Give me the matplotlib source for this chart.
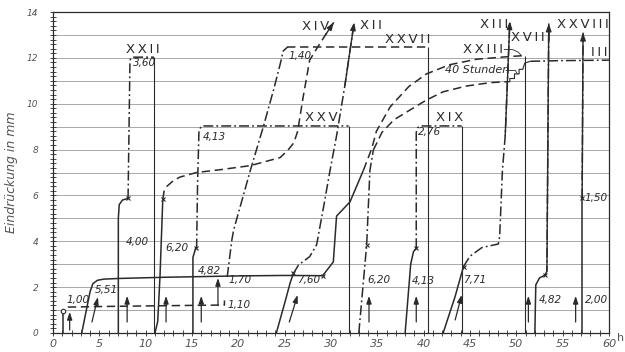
import matplotlib
matplotlib.use("Agg")
import matplotlib.pyplot as plt
from matplotlib.ticker import MultipleLocator

plt.rcParams["font.family"] = ["DejaVu Sans"]

INK = "#2a2a2a"
GRID = "#9a9a9a"
DASHED = (0, (5.5, 3.0))
DASHDOT = (0, (6.5, 2.0, 1.2, 2.0))

# --- measured runs: time (h) against indentation (mm) ---
# run 1,00: short rise, then held almost flat
t_a = [1.1, 1.1]
d_a = [0.0, 0.95]
t_a_hold = [1.6, 6.0, 12.0, 18.5, 18.5]
d_a_hold = [1.13, 1.16, 1.19, 1.22, 1.42]

# run 5,51: rise, long plateau, second rise into XXIII
t_b = [3.1, 3.6, 4.0, 4.3, 4.8, 5.5, 7.2, 12.0, 20.0, 25.0, 29.1, 30.25, 30.6, 32.05, 33.5]
d_b = [0.0, 1.0, 1.8, 2.15, 2.3, 2.35, 2.38, 2.43, 2.49, 2.51, 2.5, 3.1, 5.1, 5.72, 7.1]
t_b_up = [33.5, 34.4, 34.9, 36.4, 38.4, 40.3, 42.8, 45.7, 49.0, 50.9]
d_b_up = [7.1, 8.05, 8.8, 9.87, 10.75, 11.3, 11.7, 11.94, 12.05, 12.1]

# run 4,00 -> XXII
t_c = [7.05, 7.05, 7.15, 7.5, 8.1]
d_c = [0.0, 5.0, 5.6, 5.8, 5.87]
t_c_up = [8.1, 8.3, 8.35, 8.55, 10.9]
d_c_up = [5.87, 11.75, 11.95, 12.03, 12.03]

# run 6,20 -> XIV
t_d = [11.0, 11.3, 11.55, 11.85]
d_d = [0.0, 0.5, 2.5, 5.85]
t_d_up = [11.85, 12.0, 12.3, 13.0, 13.7, 15.5, 18.0, 21.3, 24.5, 25.3, 26.0, 26.4,
          26.6, 27.0, 27.7, 28.45, 29.4, 30.3]
d_d_up = [5.85, 6.2, 6.4, 6.65, 6.8, 7.0, 7.12, 7.3, 7.65, 7.95, 8.3, 8.8,
          9.3, 10.3, 11.9, 12.4, 13.0, 13.55]

# run 4,82 -> XXV
t_e = [15.1, 15.1, 15.4]
d_e = [0.0, 3.3, 3.7]
t_e_up = [15.4, 15.5, 15.6, 15.75, 16.0, 31.9]
d_e_up = [3.7, 3.75, 6.5, 8.8, 9.03, 9.03]

# run 1,70 -> XXVII
t_f = [18.8, 19.3, 19.5, 21.3, 22.7, 23.8, 24.5, 24.85, 25.3]
d_f = [2.45, 4.06, 4.5, 7.1, 9.0, 10.6, 11.7, 12.3, 12.47]
t_f_top = [25.3, 40.5]
d_f_top = [12.47, 12.47]

# run 7,60 -> XII
t_g = [24.1, 25.0, 25.6, 25.95]
d_g = [0.0, 1.3, 2.2, 2.6]
t_g_up = [25.95, 26.5, 27.7, 28.45, 29.2, 29.9, 30.6, 31.5, 32.5]
d_g_up = [2.6, 2.97, 3.33, 3.85, 5.5, 7.1, 8.6, 10.8, 13.55]

# run 6,20 -> III (40 Stunden)
t_h = [33.0, 33.85, 34.2, 34.57]
d_h = [0.0, 3.85, 7.1, 7.98]
t_h_mid = [34.57, 35.5, 36.8, 38.5, 40.3, 42.1, 44.6, 47.2, 49.0]
d_h_mid = [7.98, 8.75, 9.3, 9.72, 10.16, 10.52, 10.77, 10.92, 10.96]
t_h_step = [49.0, 49.3, 49.3, 49.8, 49.8, 50.3, 50.3, 50.7, 50.9, 51.5]
d_h_step = [10.96, 10.96, 11.1, 11.1, 11.3, 11.3, 11.5, 11.5, 11.77, 11.85]
t_h_end = [51.5, 55.0, 60.0]
d_h_end = [11.85, 11.88, 11.9]

# run 4,13 -> XIX
t_i = [38.0, 38.3, 38.6, 38.9, 39.2]
d_i = [0.0, 1.5, 3.0, 3.55, 3.7]
t_i_up = [39.2, 39.2, 39.35, 39.6, 44.1]
d_i_up = [3.7, 8.75, 8.95, 9.03, 9.03]

# run 7,71 -> XIII
t_j = [42.1, 43.4, 44.3]
d_j = [0.0, 1.6, 2.9]
t_j_up = [44.3, 45.0, 46.3, 48.05, 48.2, 48.5, 48.8, 49.3]
d_j_up = [2.9, 3.35, 3.73, 3.88, 4.2, 7.1, 8.6, 13.6]

# run 4,82 -> XVIII
t_k = [52.0, 52.1, 52.5, 53.1]
d_k = [0.0, 2.1, 2.4, 2.53]
t_k_up = [53.1, 53.3, 53.5]
d_k_up = [2.53, 2.7, 13.5]

# run 2,00 -> XXVIII
t_m = [57.05, 57.05]
d_m = [0.0, 5.87]
t_m_up = [57.1, 57.2]
d_m_up = [5.87, 13.1]

# end-of-run verticals down to the time axis
end_t = [10.9, 31.9, 40.5, 44.1, 50.9]
end_d = [12.03, 9.03, 12.47, 9.03, 12.1]

# points where the load was changed
joint_t = [8.1, 11.85, 15.4, 25.95, 29.1, 33.85, 39.2, 44.3, 53.1, 57.05]
joint_d = [5.87, 5.85, 3.7, 2.6, 2.5, 3.85, 3.7, 2.9, 2.53, 5.87]

# loading arrows at the foot of the runs
arrow_t0 = [1.8, 4.2, 8.0, 12.2, 16.0, 17.8, 25.5, 34.1, 39.2, 43.4, 51.3, 56.4]
arrow_t1 = [1.8, 4.85, 8.0, 12.2, 16.0, 17.8, 26.4, 34.1, 39.2, 44.1, 51.3, 56.4]
arrow_d0 = [0.13, 0.48, 0.48, 0.48, 0.48, 1.22, 0.48, 0.48, 0.48, 0.57, 0.48, 0.48]
arrow_d1 = [0.92, 1.57, 1.62, 1.62, 1.62, 2.40, 1.66, 1.62, 1.62, 1.66, 1.62, 1.62]

# load values written beside the curves
load_text = ["1,00", "5,51", "4,00", "6,20", "4,82", "1,70", "1,10", "7,60", "6,20",
             "4,13", "7,71", "4,82", "2,00", "1,50", "4,13", "1,40", "3,60", "2,76"]
load_t = [1.5, 4.55, 7.9, 12.1, 15.6, 18.95, 18.8, 26.3, 33.9,
          38.7, 44.3, 52.4, 57.4, 57.4, 16.2, 25.4, 8.65, 39.4]
load_d = [1.42, 1.87, 3.98, 3.7, 2.7, 2.3, 1.2, 2.3, 2.3,
          2.25, 2.3, 1.45, 1.45, 5.9, 8.55, 12.1, 11.77, 8.77]

# specimen numbers
spec_text = ["XXII", "XIV", "XII", "XXVII", "XXV", "XIX", "XIII", "XVIII", "XXVIII",
             "XXIII", "III"]
spec_t = [9.7, 28.3, 34.3, 38.3, 29.0, 42.8, 47.6, 51.6, 57.2, 46.4, 59.0]
spec_d = [12.36, 13.38, 13.4, 12.78, 9.4, 9.4, 13.45, 12.88, 13.45, 12.36, 12.22]

fig = plt.figure(figsize=(6.25, 3.52), dpi=100)
ax = fig.add_axes([53 / 625, 1 - 333 / 352, 556 / 625, 321 / 352])
ax.set_xlim(0, 60)
ax.set_ylim(0, 14)

# millimetre grid
ax.hlines(range(1, 14), 0, 60, color=GRID, lw=0.6, zorder=1)


def draw(t, d, ls="-", lw=1.1):
    ax.plot(t, d, color=INK, lw=lw, ls=ls, zorder=3, solid_capstyle="butt",
            dash_capstyle="butt")


def tip(t, d):
    ax.annotate("", xy=(t[-1], d[-1]), xytext=(t[-2], d[-2]),
                arrowprops=dict(arrowstyle="-|>,head_length=0.45,head_width=0.16",
                                color=INK, lw=1.0, shrinkA=0, shrinkB=0), zorder=4)


draw(t_a, d_a)
draw(t_a_hold, d_a_hold, DASHED)
draw(t_b, d_b)
draw(t_b_up, d_b_up, DASHED)
draw(t_c, d_c)
draw(t_c_up, d_c_up, DASHDOT)
draw(t_d, d_d)
draw(t_d_up, d_d_up, DASHED)
tip(t_d_up, d_d_up)
draw(t_e, d_e)
draw(t_e_up, d_e_up, DASHDOT)
draw(t_f, d_f, DASHDOT)
draw(t_f_top, d_f_top, DASHED)
draw(t_g, d_g)
draw(t_g_up, d_g_up, DASHDOT)
tip(t_g_up, d_g_up)
draw(t_h, d_h, DASHDOT)
draw(t_h_mid, d_h_mid, DASHED)
draw(t_h_step, d_h_step, "-", 0.8)
draw(t_h_end, d_h_end, DASHDOT)
draw(t_i, d_i)
draw(t_i_up, d_i_up, DASHDOT)
draw(t_j, d_j)
draw(t_j_up, d_j_up, DASHDOT)
tip(t_j_up, d_j_up)
draw(t_k, d_k)
draw(t_k_up, d_k_up, DASHDOT)
tip(t_k_up, d_k_up)
draw(t_m, d_m)
draw(t_m_up, d_m_up, DASHDOT)
tip(t_m_up, d_m_up)

ax.vlines(end_t, 0, end_d, color=INK, lw=0.8, zorder=2)
ax.plot(joint_t, joint_d, ls="none", marker="x", ms=3, mew=0.8, color=INK, zorder=4)
ax.plot([t_a[-1]], [d_a[-1]], ls="none", marker="o", ms=3.2, mfc="white",
        mew=0.8, color=INK, zorder=4)

for t0, t1, d0, d1 in zip(arrow_t0, arrow_t1, arrow_d0, arrow_d1):
    ax.annotate("", xy=(t1, d1), xytext=(t0, d0),
                arrowprops=dict(arrowstyle="-|>,head_length=0.45,head_width=0.15",
                                color=INK, lw=0.9, shrinkA=0, shrinkB=0), zorder=4)

for s, t, d in zip(load_text, load_t, load_d):
    ax.text(t, d, s, fontsize=7.5, style="italic", color=INK, ha="left",
            va="center", zorder=5)

# roman numerals are lettered wide apart
for s, t, d in zip(spec_text, spec_t, spec_d):
    ax.text(t, d, "\u2009".join(s), fontsize=9.5, color=INK, ha="center",
            va="center", zorder=5)

# leaders to the XXIII curve and the 40 hour step
ax.plot([48.7, 49.6, 50.2, 50.5], [12.36, 12.36, 12.25, 12.12], color=INK, lw=0.6)
ax.text(42.3, 11.47, "40 Stunden", fontsize=8, style="italic", color=INK,
        ha="left", va="center", zorder=5)
ax.plot([48.9, 49.9, 50.1], [11.45, 11.45, 11.3], color=INK, lw=0.6)

# axes and ticks
for sp in ax.spines.values():
    sp.set_color(INK)
    sp.set_linewidth(0.9)
ax.xaxis.set_major_locator(MultipleLocator(5))
ax.xaxis.set_minor_locator(MultipleLocator(1))
ax.yaxis.set_major_locator(MultipleLocator(2))
ax.yaxis.set_minor_locator(MultipleLocator(0.2))
ax.tick_params(which="both", direction="inout", color=INK, width=0.6)
ax.tick_params(which="major", length=5)
ax.tick_params(which="minor", length=4)
ax.tick_params(axis="x", labelsize=8, pad=2, labelcolor="#555555")
ax.tick_params(axis="y", labelsize=6.5, pad=8, labelcolor="#555555")
for lab in ax.get_xticklabels() + ax.get_yticklabels():
    lab.set_style("italic")
ax.text(60.9, -0.2, "h", fontsize=8, color="#555555", ha="left", va="center",
        clip_on=False)

ax.set_ylabel("Eindrückung in mm", fontsize=9, style="italic", color="#555555")
ax.yaxis.set_label_coords(-0.063, 0.5)

fig.savefig("out.png", dpi=100, facecolor="white")
